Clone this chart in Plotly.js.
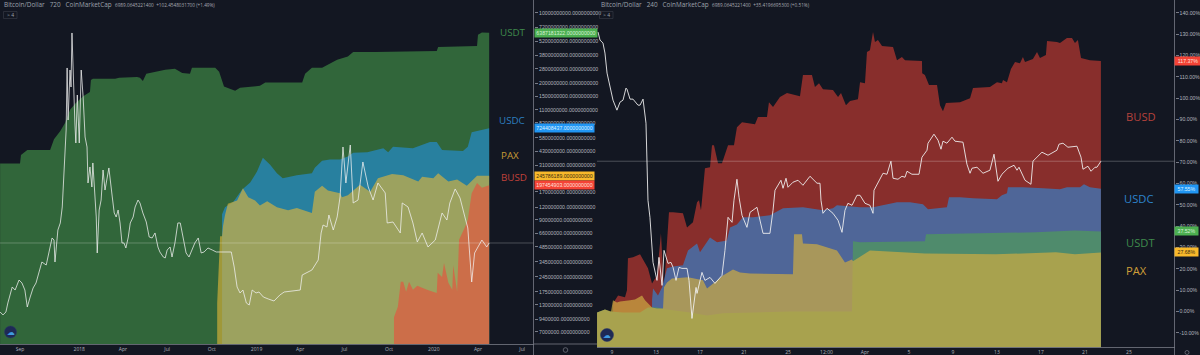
<!DOCTYPE html>
<html>
<head>
<meta charset="utf-8">
<script src="https://cdn.plot.ly/plotly-3.0.1.min.js"></script>
<style>html,body{margin:0;padding:0;background:#131722;overflow:hidden}#c{width:1200px;height:355px}</style>
</head>
<body>
<div id="c"></div>
<script>
// ---------- Left chart (12h): days since 2017-09-01; caps in USD millions; BTC in USD
const leftUsdtDay=[-41,0,2,15,62,70,83,93,103,115,130,144,146,150,196,204,241,247,253,260,299,319,334,350,354,402,410,420,432,443,453,494,505,581,587,601,622,653,675,686,731,858,861,941,943,951,966];
const leftUsdtCap=[325,325,393,440,440,565,680,820,1100,1290,1500,1650,2170,2230,2230,2280,2330,2280,2120,2500,2750,2800,2550,2500,2870,2870,2620,1870,1780,1700,1820,1900,2050,2050,2500,2870,2870,3450,3700,4100,4100,4200,4600,4700,6100,6390,6387.18];
const leftUsdcDay=[416,422,439,457,474,488,500,515,529,541,570,601,607,622,638,659,675,686,715,748,758,768,809,844,858,869,912,922,930,966];
const leftUsdcCap=[102,120,135,178,210,270,370,315,260,232,248,260,295,345,355,355,380,415,420,460,420,475,460,530,530,440,430,475,660,724.4];
const leftPaxDay=[406,408,412,416,418,422,428,447,459,470,484,494,509,529,552,570,601,607,622,634,659,663,675,700,721,737,766,789,820,828,851,861,882,900,920,941,966];
const leftPaxCap=[13.6,24.5,62,62,78,100,130,140,185,150,140,125,137,120,112,118,105,170,195,175,165,150,157,200,170,232,255,248,215,240,232,260,215,225,195,245,245.8];
const leftBusdDay=[770,778,784,789,795,801,809,818,838,858,860,869,873,882,890,892,900,904,916,922,930,941,951,966];
const leftBusdCap=[9.8,12.4,22,22,17.5,22,18.3,20,18.3,17,27,24.5,33.7,21.5,18.3,32,17.5,57,76,90,165,208,187,197.45];
const leftBtcDay=[-41,-35,-29,-25,-16,-10,-2,4,10,15,21,27,33,41,45,54,58,66,70,72,78,83,87,91,95,97,99,103,105,107,109,113,115,118,122,126,130,134,138,140,144,148,150,157,159,163,167,171,175,179,183,190,194,198,202,206,210,214,218,223,227,233,237,243,247,253,260,266,272,278,284,288,295,299,303,309,313,319,325,330,336,342,348,354,360,367,373,379,387,396,404,412,424,435,441,447,453,459,466,472,478,486,492,501,511,523,535,544,577,581,601,614,620,624,632,636,645,653,659,665,671,680,686,696,706,717,727,737,752,756,768,783,787,799,809,818,828,840,855,869,879,885,896,906,916,922,930,936,951,961,966];
const leftBtcUsd=[2780,2600,2780,3330,4305,4120,4730,4550,4120,3085,3695,4245,4550,5465,5830,5645,6135,7295,7170,5830,7780,8210,9185,11440,13880,17665,14490,17540,16505,19800,17360,14310,13090,16015,13090,17540,15895,13455,12845,10650,11625,10405,11870,8575,6380,9000,9610,11440,10220,11015,11565,9795,8820,8575,9000,8210,6990,6990,6685,7355,8210,8575,9185,9610,9430,8820,8270,7355,7295,7600,6745,6440,6135,6075,6560,6745,6135,6990,8210,8210,7355,6380,6135,6560,6990,7295,6380,6440,6685,6560,6440,6440,6440,6440,5525,4305,3940,4120,3330,3205,4120,3940,4000,3695,3575,3450,3815,4000,4120,5035,5340,5950,7600,8085,7965,8695,7780,8575,9795,12845,10650,12965,9430,9610,11930,10405,9610,10650,10040,8210,8270,7600,9430,9185,8210,7050,7600,6745,7170,8820,8390,9430,10285,9735,8575,7905,4610,6380,7170,6745,6989];
const leftTickVals=[1e10,7.2e9,5.2e9,3.8e9,2.8e9,2e9,1.5e9,1.1e9,8.2e8,5.8e8,4.3e8,3.1e8,1.7e8,1.2e8,9e7,6.6e7,4.85e7,3.45e7,2.45e7,1.75e7,1.3e7,9.4e6,7e6];
const leftDateTicks=['2017-09-01','2018-01-01','2018-04-01','2018-07-01','2018-10-01','2019-01-01','2019-04-01','2019-07-01','2019-10-01','2020-01-01','2020-04-01','2020-07-01'];
const leftDateLabels=['Sep','2018','Apr','Jul','Oct','2019','Apr','Jul','Oct','2020','Apr','Jul'];

// ---------- Right chart (4h): days since 2020-03-09; percent change; BTC in USD
const rightBusdDay=[.1,.55,1.18,1.36,1.45,1.91,2.55,3,3.27,3.64,4.09,4.45,4.73,5.18,5.55,6.45,6.82,7.36,7.73,7.91,8.09,8.18,8.45,8.91,9.09,9.27,9.64,10,10.09,10.55,11.09,11.36,11.82,13,13.27,14.09,14.27,14.64,15.27,15.91,17.09,17.36,18.18,18.45,18.82,19.18,20.09,20.55,20.82,21.27,21.64,22.36,22.55,23,23.18,23.45,23.73,23.91,24.18,24.55,25.55,25.91,26.36,26.64,28.18,28.2,28.45,28.82,29.55,29.82,30.09,30.36,31.64,32.55,32.82,34.36,35,35.45,35.55,35.91,36.27,36.64,37.09,37.36,37.55,38.27,38.64,38.91,39.45,39.55,40.45,40.73,41.36,41.82,42.09,42.36,42.64,43.45,44.45];
const rightBusdPct=[3.8,7.5,6.6,9.9,24.9,25.4,26.8,23,20.2,13.1,16.9,36.6,11.3,46.5,46.5,46,39.4,41.8,51.2,52.1,47.4,52.1,67.1,67.6,77.9,77.9,69.5,69.5,70.9,77.9,77.9,86.4,88.7,87.8,91.1,91.1,98.1,95.8,100.5,102.4,100.9,110.8,110.8,105.2,107,104.2,103.8,100.5,102.4,96.7,98.6,99.5,107.5,107,121.6,122.5,131,126.3,127.2,124.4,124,117.8,119.3,117.8,117.4,111.7,110.8,106.1,106.1,96.7,93.9,97.7,98.1,100,104.7,105.2,107.5,107,108.5,107.5,113.6,116.9,116.4,119.3,116.9,118.3,121.6,118.8,120.2,126.8,126.3,125.8,128.2,128.2,125.8,127.2,118.8,117.8,117.37];
const rightUsdcDay=[3.64,3.73,4.18,4.55,5,5.55,6.45,6.91,7.73,8,8.91,9.55,10.45,10.73,11.36,11.91,12.82,14.36,15.55,17.36,19.18,20.09,20.45,21.64,22.55,23.73,25.91,27.09,28.27,28.73,29.55,30.45,30.64,31.64,32.82,35,35.45,35.91,36,37.36,39.18,40.73,41.36,42.55,42.91,43.45,44.45];
const rightUsdcPct=[5.2,10.8,7.5,11.3,20.2,21.1,21.6,28.6,31.9,27.7,34.7,32.4,33.3,39.4,40.8,44.1,44.1,45.1,48.4,48.8,47.4,48.4,49.8,49.3,48.8,48.8,51.2,51.2,50.2,47.9,48.4,48.8,53.5,53.5,53.1,52.6,54.5,55.4,58.2,58.2,57.7,57.3,58.2,58.2,59.6,58.2,57.55];
const rightUsdtDay=[-1.36,-.64,-.18,1,2.55,3.27,4.09,5,7.09,8.64,10.09,13.18,16.18,21.82,21.91,22.55,28.45,28.55,34.9,38.55,42.09,44.45];
const rightUsdtPct=[-.5,.9,0,-.5,-.5,1.9,1.9,.9,-.5,-1.9,-.9,-.5,0,0,32.9,32.4,32.9,36.2,36.6,37.1,38,37.52];
const rightPaxDay=[-1.36,-.64,-.09,.09,.45,.73,1.64,2.09,2.73,3,3.64,4.09,4.64,4.73,5,5.45,6.91,8.27,8.64,9.18,10.09,11,11.64,12.55,15,16.45,16.55,17.27,17.36,18.64,20.45,21.18,21.82,21.91,23.45,28.45,34.9,38.55,40.36,42.09,44.45];
const rightPaxPct=[-.5,.9,0,5.2,4.2,4.7,5.2,5.6,7.5,5.2,1.9,1.4,1.4,11.3,13.6,15.5,16,14.6,10.8,13.1,16.9,19.7,18.3,17.8,17.4,17.4,36.2,36.2,31.9,31.5,28.6,23,24.4,23.5,28.6,27.2,26.8,27.2,27.7,26.8,27.68];
const rightBtcDay=[-1.27,-1.09,-.82,-.64,-.45,-.18,.09,.45,.73,1,1.27,1.36,1.64,1.91,2.36,2.55,2.82,3.09,3.18,3.27,3.45,3.73,4.09,4.27,4.55,4.73,5.09,5.36,5.55,5.82,6.09,6.36,6.82,7,7.27,7.64,7.73,8.18,8.45,8.91,9.36,10,10.27,10.55,10.91,11.09,11.36,11.55,11.82,12.27,12.55,13.18,13.73,14.36,14.64,14.82,15.36,15.55,15.82,16,16.45,16.91,17.36,18,18.64,18.91,19,19.18,19.55,20.09,20.55,20.91,21.18,21.45,21.82,22.27,22.55,23,23.45,23.73,23.82,24.64,25,25.36,25.55,26,26.36,26.64,26.82,27.27,27.91,28.18,28.64,28.73,29.27,29.64,29.91,30.09,30.45,30.91,31.18,31.91,32.27,32.55,32.73,33.18,33.73,34.36,34.73,35.09,35.45,36,36.55,36.82,37,37.55,38.09,38.27,39.09,39.64,40.45,40.64,41,41.45,42.27,42.64,42.82,43.27,43.55,43.91,44.09,44.45];
const rightBtcUsd=[8924,8804,8759,8609,8309,8129,7904,7754,7874,7904,8084,8069,7919,7919,7829,7829,7919,7559,7004,6404,6149,5474,5204,5549,5129,5654,5459,5474,5399,5204,5399,5384,5384,5204,4634,5099,5009,5324,5204,5249,5159,5279,5654,6149,6074,6404,6719,6449,6179,5999,6224,6299,5909,5909,6254,6554,6704,6584,6734,6599,6674,6704,6629,6764,6659,6659,6404,6209,6284,6209,6104,5924,6254,6359,6329,6479,6479,6359,6329,6209,6554,6809,6794,6989,6734,6719,6764,6749,6839,6794,6794,7049,7154,7259,7394,7304,7169,7289,7259,7349,7289,7274,6944,6809,6884,6899,6809,6854,7094,6689,6794,6884,6929,6854,6899,6704,6644,6989,7124,7079,7154,7244,7259,7199,7214,7049,6869,6914,6839,6899,6899,6989];
const rightTickVals=[140,130,120,110,100,90,80,70,60,50,40,30,20,10,0,-10];
const rightDateTicks=['2020-03-09','2020-03-13','2020-03-17','2020-03-21','2020-03-25','2020-03-28 12:00','2020-04-01','2020-04-05','2020-04-09','2020-04-13','2020-04-17','2020-04-21','2020-04-25'];
const rightDateLabels=['9','13','17','21','25','12:00','Apr','5','9','13','17','21','25'];

// ---------- Helpers
const W=1200,H=355;
const px=x=>x/W, py=y=>1-y/H;
const leftOrigin=Date.UTC(2017,8,1), rightOrigin=Date.UTC(2020,2,9);
const DAY=864e5;
const lDate=d=>new Date(leftOrigin+d*DAY).toISOString();
const rDate=d=>new Date(rightOrigin+d*DAY).toISOString();
const leftLogRange=[6.726,10.128], rightPctRange=[-16.9,146];
const LAST_BTC=6989.06;

function area(dates,vals,floor,color,xa,ya){
  return {type:'scatter',mode:'lines',xaxis:xa,yaxis:ya,
    x:dates.concat([dates[dates.length-1],dates[0]]),
    y:vals.concat([floor,floor]),
    fill:'toself',fillcolor:color,line:{width:0},hoverinfo:'skip',showlegend:false};
}
function btc(dates,vals,xa,ya,w,c){
  return {type:'scatter',mode:'lines',xaxis:xa,yaxis:ya,x:dates,y:vals,
    line:{color:c,width:w,shape:'linear'},hoverinfo:'skip',showlegend:false};
}
const floorL=Math.pow(10,leftLogRange[0]), floorR=rightPctRange[0];
const mm=a=>a.map(v=>v*1e6);

const RED='rgba(244,67,54,0.55)',BLUE='rgba(33,150,243,0.55)',YEL='rgba(227,183,57,0.62)',GRN='rgba(76,175,80,0.52)';
const RED_R='rgba(244,67,54,0.52)',BLUE_R='rgba(33,150,243,0.55)',GRN_R='rgb(79,139,108)',YEL_R='rgba(206,173,66,0.7)';

const traces=[
  area(leftUsdtDay.map(lDate),mm(leftUsdtCap),floorL,GRN,'x','y'),
  area(leftUsdcDay.map(lDate),mm(leftUsdcCap),floorL,BLUE,'x','y'),
  area(leftPaxDay.map(lDate),mm(leftPaxCap),floorL,YEL,'x','y'),
  area(leftBusdDay.map(lDate),mm(leftBusdCap),floorL,RED,'x','y'),
  area(rightBusdDay.map(rDate),rightBusdPct,floorR,RED_R,'x2','y2'),
  area(rightUsdcDay.map(rDate),rightUsdcPct,floorR,BLUE_R,'x2','y2'),
  area(rightUsdtDay.map(rDate),rightUsdtPct,floorR,GRN_R,'x2','y2'),
  area(rightPaxDay.map(rDate),rightPaxPct,floorR,YEL_R,'x2','y2'),
  btc(leftBtcDay.map(lDate),leftBtcUsd,'x','y3',0.9,'rgba(240,240,240,0.85)'),
  btc(rightBtcDay.map(rDate),rightBtcUsd,'x2','y4',1,'rgba(240,240,240,0.88)')
];

const axisGrey='#787b86', tickText='#b2b5be', AX_FONT='"Liberation Sans Narrow","Liberation Sans",sans-serif', TXT='"Open Sans","Noto Sans",sans-serif';

// label helpers
function label(text,x,y,size,color,anchor){
  return {xref:'paper',yref:'paper',x:px(x),y:py(y),text:text,showarrow:false,xanchor:anchor||'left',yanchor:'middle',
    font:{family:TXT,size:size,color:color},borderpad:0};
}
function lastBox(text,ref,val,x,w,bg,fg,size){
  return {xref:'paper',yref:ref,x:px(x),y:val,text:text,showarrow:false,xanchor:'left',yanchor:'middle',width:w,height:8,align:'center',
    bgcolor:bg,font:{family:AX_FONT,size:size,color:fg},borderpad:0};
}
const annotations=[
  label('Bitcoin/Dollar&nbsp;&nbsp;&nbsp;720&nbsp;&nbsp;&nbsp;CoinMarketCap',3,5,6.4,'#9ea2ac'),
  label('6989.0645221400&nbsp;&nbsp;+102.4548031700 (+1.49%)',114,5.5,4.7,'#a7aab3'),
  label('Bitcoin/Dollar&nbsp;&nbsp;&nbsp;240&nbsp;&nbsp;&nbsp;CoinMarketCap',600,5,6.4,'#9ea2ac'),
  label('6989.0645221400&nbsp;&nbsp;+35.4196695300 (+0.51%)',711,5.5,4.7,'#a7aab3'),
  label('&gt;&nbsp;4',6,15,5,'#9ea2ac'),
  label('&gt;&nbsp;4',602,15,5,'#9ea2ac'),
  label('USDT',499,33,9.8,'#3f8a4c'),
  label('USDC',498,120,9.8,'#2d7fc0'),
  label('PAX',500,155,9.8,'#c79a35'),
  label('BUSD',500,177,9.8,'#c0413a'),
  label('BUSD',1125,116,11.2,'#b5423c'),
  label('USDC',1123,198,11.2,'#2d84cc'),
  label('USDT',1125,242,11.2,'#3f8a4c'),
  label('PAX',1125,270,11.2,'#d09f38'),
  lastBox('6387181322.0000000000','y',Math.log10(6387181322),534,62,'#4caf50','#d8f0d8',5.2),
  lastBox('724408437.0000000000','y',Math.log10(724408437),534,59,'#2196f3','#dff0ff',5.2),
  lastBox('245786189.0000000000','y',Math.log10(245786189),534,59,'#f9b92b','#3a2d10',5.2),
  lastBox('197454903.0000000000','y',Math.log10(197454903),534,59,'#f44336','#ffe0dc',5.2),
  lastBox('117.37%','y2',117.37,1174,26,'#f44336','#ffe0dc',5.2),
  lastBox('57.55%','y2',57.55,1174,23,'#2196f3','#dff0ff',5.2),
  lastBox('37.52%','y2',37.52,1174,23,'#4caf50','#d8f0d8',5.2),
  lastBox('27.68%','y2',27.68,1174,23,'#f9b92b','#3a2d10',5.2),
  {xref:'paper',yref:'paper',x:px(10.5),y:py(332),xanchor:'center',yanchor:'middle',text:'☁',showarrow:false,font:{family:'DejaVu Sans',size:8,color:'#3f9be0'}},
  {xref:'paper',yref:'paper',x:px(607),y:py(335),xanchor:'center',yanchor:'middle',text:'☁',showarrow:false,font:{family:'DejaVu Sans',size:8,color:'#3f9be0'}}
];
function circle(cx,cy,r,fill,line){
  return {type:'circle',xref:'paper',yref:'paper',x0:px(cx-r),x1:px(cx+r),y0:py(cy+r),y1:py(cy-r),fillcolor:fill,line:line||{width:0},layer:'above'};
}
function rect(x0,y0,x1,y1,color){
  return {type:'rect',xref:'paper',yref:'paper',x0:px(x0),x1:px(x1),y0:py(y1),y1:py(y0),fillcolor:'rgba(0,0,0,0)',line:{color:color,width:0.6},layer:'above'};
}
function seg(x0,y0,x1,y1,color,w){
  return {type:'line',xref:'paper',yref:'paper',x0:px(x0),x1:px(x1),y0:py(y0),y1:py(y1),line:{color:color,width:w||1},layer:'above'};
}
const shapes=[
  {type:'line',xref:'x domain',yref:'y3',x0:0,x1:1,y0:LAST_BTC,y1:LAST_BTC,line:{color:'rgba(255,255,255,0.3)',width:0.8},layer:'above'},
  {type:'line',xref:'x2 domain',yref:'y4',x0:0,x1:1,y0:LAST_BTC,y1:LAST_BTC,line:{color:'rgba(255,255,255,0.3)',width:0.8},layer:'above'},
  seg(534,344,597,344,axisGrey,0.8),
  seg(533.5,0,533.5,355,axisGrey,0.8),
  seg(1174.5,0,1174.5,355,axisGrey,0.8),
  rect(3.5,11.5,17,18.5,'#3a3e4a'),
  rect(599.5,11.5,613,18.5,'#3a3e4a'),
  circle(10.5,332,6,'#1e2a55',{color:'#2a3766',width:0.5}),
  circle(607,335,6.5,'#1e2a55',{color:'#2a3766',width:0.5}),
  circle(565.5,350,2.3,'rgba(0,0,0,0)',{color:'#787b86',width:0.7}),
  circle(1187,352.5,2,'rgba(0,0,0,0)',{color:'#787b86',width:0.7})
];

const xBase={type:'date',showgrid:false,zeroline:false,showline:true,linecolor:axisGrey,linewidth:0.8,ticks:'',tickmode:'array',tickangle:0,
  tickfont:{family:TXT,size:5,color:tickText},automargin:false};
const yBase={showgrid:false,zeroline:false,automargin:false,tickmode:'array',side:'right',ticks:'outside',ticklen:3,tickcolor:axisGrey,showline:false,
  tickfont:{family:AX_FONT,size:5.2,color:tickText}};
const layout={
  width:W,height:H,autosize:false,paper_bgcolor:'#131722',plot_bgcolor:'#131722',showlegend:false,
  margin:{l:0,r:0,t:0,b:0,pad:0},hovermode:false,
  xaxis:Object.assign({},xBase,{domain:[0,px(534)],range:[lDate(-41.18),lDate(1058.3)],tickvals:leftDateTicks,ticktext:leftDateLabels,anchor:'y'}),
  yaxis:Object.assign({},yBase,{domain:[11/H,1],type:'log',range:leftLogRange,tickvals:leftTickVals,ticktext:leftTickVals.map(v=>v.toFixed(10)),anchor:'x'}),
  xaxis2:Object.assign({},xBase,{domain:[px(597),px(1174.5)],range:[rDate(-1.364),rDate(51.14)],tickvals:rightDateTicks,ticktext:rightDateLabels,anchor:'y2'}),
  yaxis2:Object.assign({},yBase,{domain:[7.5/H,1],range:rightPctRange,tickvals:rightTickVals,ticktext:rightTickVals.map(v=>v.toFixed(2)+'%'),anchor:'x2'}),
  yaxis3:{overlaying:'y',domain:[11/H,1],range:[827,21812],visible:false,anchor:'x',side:'right'},
  yaxis4:{overlaying:'y2',domain:[7.5/H,1],range:[4199,9404],visible:false,anchor:'x2',side:'right'},
  annotations:annotations,shapes:shapes
};
Plotly.newPlot('c',traces,layout,{displayModeBar:false,staticPlot:true,responsive:false});
</script>
</body>
</html>
